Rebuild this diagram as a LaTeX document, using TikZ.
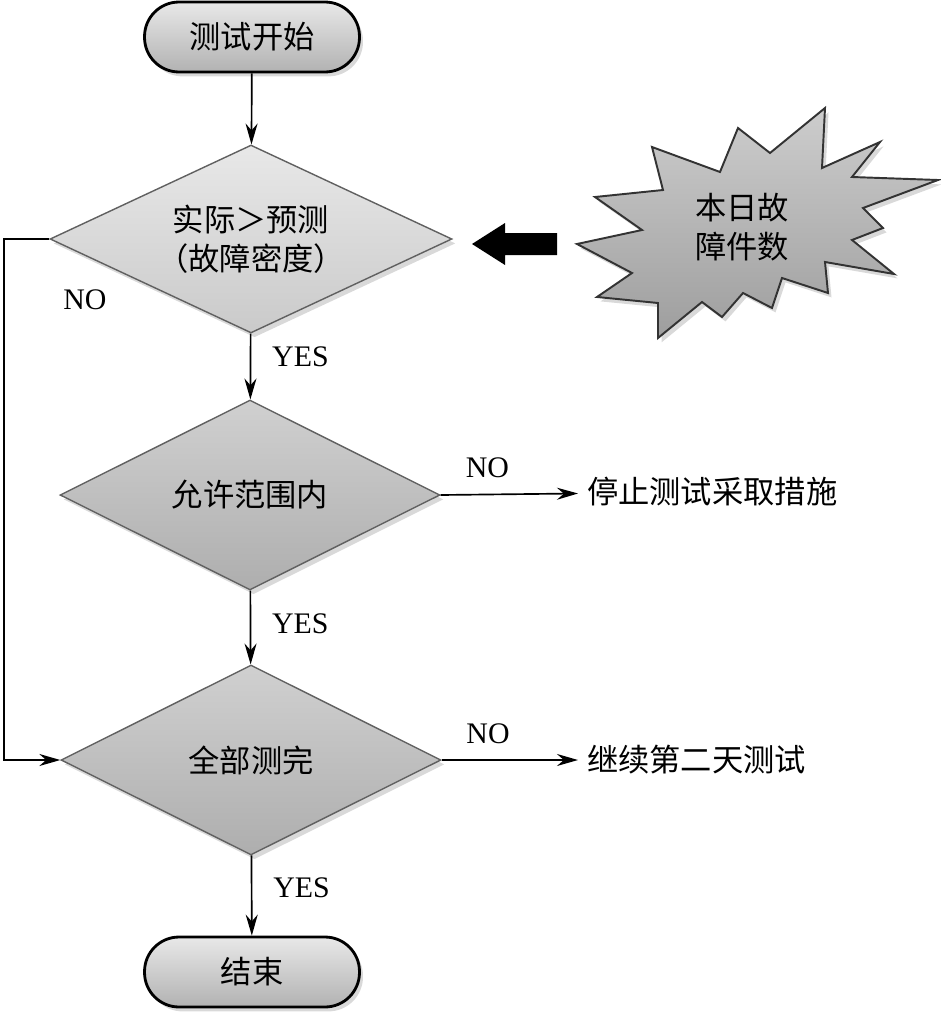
\documentclass[tikz,border=0pt]{standalone}
\usepackage{fontspec}
\setmainfont{Liberation Serif}
\newfontfamily\cjk{Noto Sans CJK SC}
\usetikzlibrary{shapes.geometric,arrows.meta,shadows}
\definecolor{termtop}{RGB}{232,232,232}
\definecolor{termbot}{RGB}{178,178,178}
\definecolor{paletop}{RGB}{232,232,232}
\definecolor{palebot}{RGB}{202,202,202}
\definecolor{darktop}{RGB}{208,208,208}
\definecolor{darkbot}{RGB}{174,174,174}
\definecolor{bursttop}{RGB}{205,205,205}
\definecolor{burstbot}{RGB}{158,158,158}
\tikzset{flow/.style={-{Stealth[length=0.42cm,width=0.24cm]},line width=0.95pt},
  softshadow/.style={drop shadow={opacity=0.3,shadow xshift=2pt,shadow yshift=-2.5pt}}}

\begin{document}
\begin{tikzpicture}[x=0.02cm,y=-0.02cm,
        lbl/.style={font=\fontsize{17}{20}\selectfont},
        cjktext/.style={font=\fontsize{17.8}{22}\selectfont\cjk,align=center},
        term/.style={cjktext,draw,line width=1.6pt,rounded corners=0.69cm,minimum width=4.3cm,
          minimum height=1.4cm,top color=termtop,bottom color=termbot,softshadow},
        decision/.style={cjktext,diamond,aspect=2.1,inner sep=0pt,draw=gray!75!black,line width=0.8pt,softshadow},
        result/.style={cjktext,anchor=west,inner sep=5pt},
        ]
        \useasboundingbox (0,0) rectangle (940,1021);
        \node[term] (start) at (252,37) {测试开始};
        \node[decision,minimum width=8.04cm,minimum height=3.76cm,top color=paletop,bottom color=palebot] (fault) at (251,239) {实际＞预测\\（故障密度）};
        \node[decision,minimum width=7.6cm,minimum height=3.8cm,top color=darktop,bottom color=darkbot] (range) at (250,495) {允许范围内};
        \node[decision,minimum width=7.6cm,minimum height=3.8cm,top color=darktop,bottom color=darkbot] (done) at (251,760) {全部测完};
        \node[term] (finish) at (252,972) {结束};
        \node[result] (stop) at (578,492) {停止测试采取措施};
        \node[result] (next) at (578,760) {继续第二天测试};

        \path[draw=black!80,line width=1.1pt,top color=bursttop,bottom color=burstbot,softshadow]
          (825,108) -- (822,168) -- (880,142) -- (852,177) -- (938,180) -- (863,208) -- (883,228)
          -- (852,240) -- (894,274) -- (825,262) -- (828,293) -- (782,278) -- (772,308) -- (743,293)
          -- (722,317) -- (702,302) -- (658,338) -- (658,303) -- (597,297) -- (632,273) -- (577,244)
          -- (642,230) -- (595,197) -- (663,190) -- (652,147) -- (720,172) -- (738,128) -- (770,153) -- cycle;
        \node[cjktext] (burst) at (742,227) {本日故\\障件数};
        \fill (557,233) -- (505,233) -- (505,223) -- (472,244) -- (505,265) -- (505,255) -- (557,255) -- cycle;

        \draw[flow] (start) -- (fault);
        \draw[flow] (fault) -- node[lbl,pos=0.35,anchor=west,xshift=0.3cm] {YES} (range);
        \draw[flow] (range) -- node[lbl,pos=0.45,anchor=west,xshift=0.3cm] {YES} (done);
        \draw[flow] (done) -- node[lbl,pos=0.4,anchor=west,xshift=0.3cm] {YES} (finish);
        \draw[flow] (range.east) -- node[lbl,pos=0.34,above,yshift=0.2cm] {NO} (stop);
        \draw[flow] (done.east) -- node[lbl,pos=0.34,above,yshift=0.2cm] {NO} (next);
        \draw[flow,line width=1.1pt] (fault.west) -- ++(-45,0) |- (done.west);
        \node[lbl] (loopno) at (85,300) {NO};
\end{tikzpicture}
\end{document}
